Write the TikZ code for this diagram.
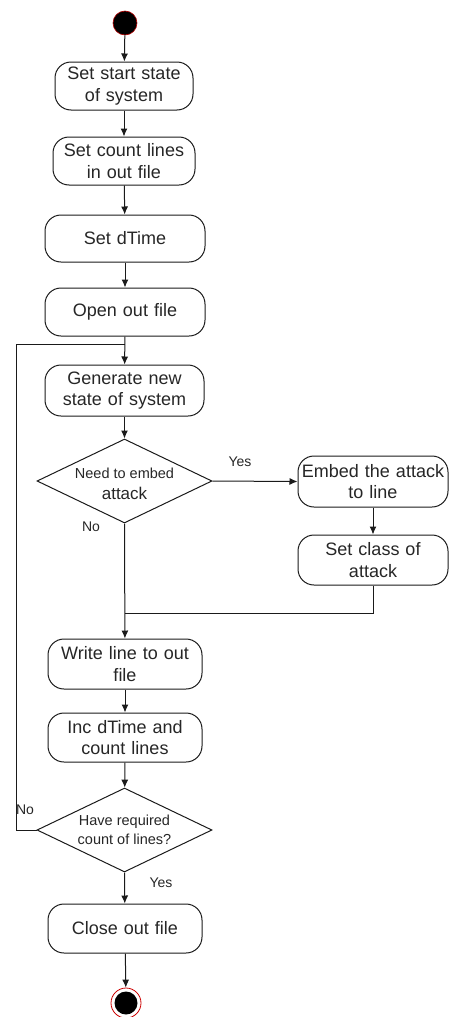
\documentclass[tikz,border=0pt]{standalone}
\usepackage{fontspec}
\setmainfont{Liberation Sans}
\usetikzlibrary{arrows.meta,shapes.geometric}
\definecolor{txt}{HTML}{262626}
\definecolor{ln}{HTML}{1A1A1A}
\begin{document}
\begin{tikzpicture}[x=1pt,y=-1pt,
  every node/.style={text=txt},
  act/.style={draw=ln, line width=1pt, rounded corners=16pt, align=center, inner sep=1pt,
    font=\fontsize{18}{21.6}\selectfont},
  dec/.style={draw=ln, line width=1pt, diamond, aspect=2.08, inner sep=0pt, align=center,
    minimum width=175pt, minimum height=84pt},
  lbl/.style={font=\fontsize{14}{16}\selectfont},
  flow/.style={draw=ln, line width=1pt, -{Latex[length=8pt,width=7pt]}},
  plain/.style={draw=ln, line width=1pt}
]
\useasboundingbox (0,0) rectangle (449,1017);

\node[circle, fill=black, draw=red!70!black, line width=0.6pt, minimum size=24pt, inner sep=0pt] (start) at (125,23) {};

\node[act, minimum width=138pt, minimum height=48pt, text width=134pt] (b1) at (124,86) {Set start state\\of system};
\node[act, minimum width=142pt, minimum height=48pt, text width=138pt] (b2) at (124,161) {Set count lines\\in out file};
\node[act, minimum width=160pt, minimum height=47pt, text width=156pt] (b3) at (125,238.5) {Set dTime};
\node[act, minimum width=160pt, minimum height=48pt, text width=156pt] (b4) at (125,312) {Open out file};
\node[act, minimum width=159pt, minimum height=51pt, text width=155pt] (b5) at (124.5,390.5) {Generate new\\state of system};

\node[dec] (d1) at (124.5,481) {};
\node[font=\fontsize{14.5}{17}\selectfont] (d1a) at (124.5,473) {Need to embed};
\node[font=\fontsize{17}{20}\selectfont] (d1b) at (124.5,493) {attack};

\node[act, minimum width=150pt, minimum height=51pt, text width=146pt] (e1) at (373,481.5) {Embed the attack\\to line};
\node[act, minimum width=150pt, minimum height=50pt, text width=146pt] (e2) at (373,560) {Set class of\\attack};

\node[act, minimum width=154pt, minimum height=50pt, text width=150pt] (b6) at (125,664) {Write line to out\\file};
\node[act, minimum width=154pt, minimum height=49pt, text width=150pt] (b7) at (125,737.5) {Inc dTime and\\count lines};

\node[dec, font=\fontsize{14.5}{19.5}\selectfont] (d2) at (124.5,830) {Have required\\count of lines?};

\node[act, minimum width=154pt, minimum height=49pt, text width=150pt] (b8) at (125,928.5) {Close out file};

\node[circle, draw=red!80!black, line width=0.8pt, fill=white, minimum size=30pt, inner sep=0pt] (endo) at (126,1003) {};
\node[circle, fill=black, minimum size=23pt, inner sep=0pt] (endi) at (126,1003) {};

\coordinate (loopA) at (16,830);
\coordinate (loopB) at (16,344);
\coordinate (loopC) at (125,344);
\coordinate (mergeA) at (373,613);
\coordinate (mergeB) at (125,613);

\draw[flow] (start) -- (b1);
\draw[flow] (b1) -- (b2);
\draw[flow] (b2) -- (b3);
\draw[flow] (b3) -- (b4);
\draw[flow] (b4) -- (b5);
\draw[flow] (b5) -- (d1);
\draw[flow] (d1.east) -- (e1.west);
\draw[flow] (e1) -- (e2);
\draw[flow] (d1.south) -- (b6);
\draw[plain] (e2.south) -- (mergeA) -- (mergeB);
\draw[flow] (b6) -- (b7);
\draw[flow] (b7) -- (d2);
\draw[plain] (d2.west) -- (loopA) -- (loopB) -- (loopC);
\draw[flow] (d2.south) -- (b8);
\draw[flow] (b8) -- (endo);

\node[lbl] (yes1) at (240,462) {Yes};
\node[lbl] (no1) at (91,527) {No};
\node[lbl] (no2) at (25,810) {No};
\node[lbl] (yes2) at (161,883) {Yes};
\end{tikzpicture}
\end{document}
